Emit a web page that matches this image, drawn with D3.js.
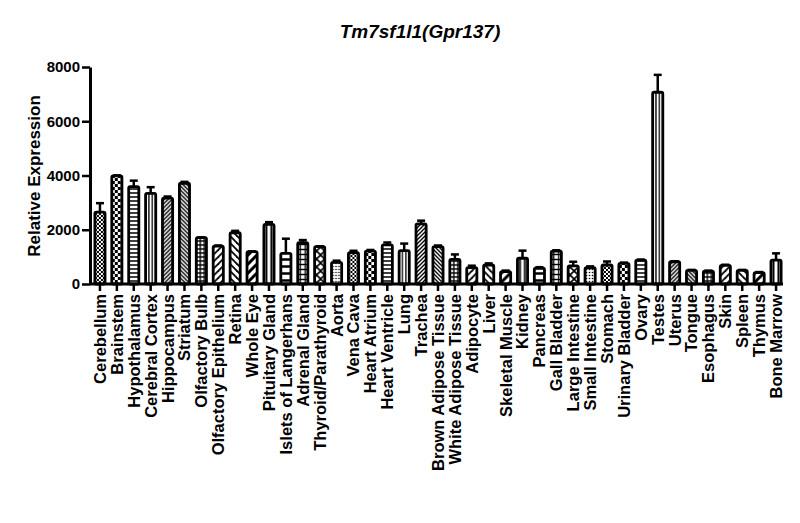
<!DOCTYPE html>
<html>
<head>
<meta charset="utf-8">
<script src="https://cdn.jsdelivr.net/npm/d3@7"></script>
<style>
  body { margin: 0; background: #fff; }
  svg { font-family: "Liberation Sans", Arial, sans-serif; }
  .axis path, .axis line { stroke: #000; }
  .axis text { fill: #000; font-weight: bold; }
</style>
</head>
<body>
<svg id="chart"></svg>
<script>
// tissue panel
const tissues = [
  "Cerebellum", "Brainstem", "Hypothalamus", "Cerebral Cortex", "Hippocampus",
  "Striatum", "Olfactory Bulb", "Olfactory Epithelium", "Retina", "Whole Eye",
  "Pituitary Gland", "Islets of Langerhans", "Adrenal Gland", "Thyroid/Parathyroid", "Aorta",
  "Vena Cava", "Heart Atrium", "Heart Ventricle", "Lung", "Trachea",
  "Brown Adipose Tissue", "White Adipose Tissue", "Adipocyte", "Liver", "Skeletal Muscle",
  "Kidney", "Pancreas", "Gall Bladder", "Large Intestine", "Small Intestine",
  "Stomach", "Urinary Bladder", "Ovary", "Testes", "Uterus",
  "Tongue", "Esophagus", "Skin", "Spleen", "Thymus", "Bone Marrow"
];
const expression = [
  2650, 3985, 3590, 3340, 3165,
  3715, 1710, 1400, 1890, 1190,
  2200, 1130, 1520, 1380, 800,
  1155, 1215, 1440, 1230, 2215,
  1380, 910, 605, 700, 455,
  950, 580, 1215, 670, 600,
  700, 760, 880, 7070, 820,
  500, 470, 690, 500, 420, 880
];
const sem = [
  330, 20, 220, 230, 60,
  50, 10, 20, 70, 10,
  80, 540, 100, 10, 60,
  70, 40, 90, 260, 120,
  40, 180, 70, 60, 40,
  280, 40, 30, 150, 50,
  130, 30, 20, 640, 20,
  20, 20, 20, 20, 20, 250
];
const yTicks = [0, 2000, 4000, 6000, 8000];
const chartTitle = "Tm7sf1l1(Gpr137)";
const yTitle = "Relative Expression";

// fill patterns cycle every 15 bars (prism style)
const patternCycle = [
  "checkSmall", "checkLarge", "horiz", "vert", "diagUp",
  "diagDown", "grid", "diagUpWide", "diagDownWide", "diagUpBold",
  "vertWide", "horizWide", "gridWide", "cross", "dots"
];

class BarChart {
  constructor(_config) {
    this.config = {
      parentElement: _config.parentElement,
      containerWidth: 800,
      containerHeight: 523,
      margin: { top: 67, right: 15, bottom: 239, left: 90 }
    };
    this.data = tissues.map((t, i) => ({ tissue: t, value: expression[i], err: sem[i], idx: i }));
    this.initVis();
  }

  initVis() {
    let vis = this;
    vis.width = vis.config.containerWidth - vis.config.margin.left - vis.config.margin.right;
    vis.height = vis.config.containerHeight - vis.config.margin.top - vis.config.margin.bottom;

    vis.svg = d3.select(vis.config.parentElement)
      .attr("width", vis.config.containerWidth)
      .attr("height", vis.config.containerHeight);

    vis.defs = vis.svg.append("defs");

    vis.chart = vis.svg.append("g")
      .attr("transform", `translate(${vis.config.margin.left},${vis.config.margin.top})`);

    vis.xScale = d3.scaleBand()
      .domain(tissues)
      .range([1.5, 694.5])
      .paddingInner(0.4)
      .paddingOuter(0.2);

    vis.yScale = d3.scaleLinear().domain([0, 8000]).range([vis.height, 0]);

    vis.xAxis = d3.axisBottom(vis.xScale).tickSizeInner(7).tickSizeOuter(0);
    vis.yAxis = d3.axisLeft(vis.yScale)
      .tickValues(yTicks)
      .tickFormat(d3.format("d"))
      .tickSizeInner(8).tickSizeOuter(0).tickPadding(2);

    // title
    vis.svg.append("text")
      .attr("x", 420)
      .attr("y", 38)
      .attr("text-anchor", "middle")
      .style("font-size", "19px")
      .style("font-weight", "bold")
      .style("font-style", "italic")
      .text(chartTitle);

    // y axis title
    vis.svg.append("text")
      .attr("transform", "rotate(-90)")
      .attr("x", -176)
      .attr("y", 40)
      .attr("text-anchor", "middle")
      .style("font-size", "17px")
      .style("font-weight", "bold")
      .text(yTitle);

    vis.renderVis();
  }

  // one pattern per bar so the stripes line up with the bar edge
  makePattern(id, kind, x0) {
    let vis = this;
    const sizes = {
      checkSmall: 4, checkLarge: 6, horiz: 4, vert: 3.4, diagUp: 4,
      diagDown: 4, grid: 4, diagUpWide: 7, diagDownWide: 7, diagUpBold: 9,
      vertWide: 5, horizWide: 7, gridWide: 5, cross: 8, dots: 3
    };
    const s = sizes[kind];
    const p = vis.defs.append("pattern")
      .attr("id", id)
      .attr("patternUnits", "userSpaceOnUse")
      .attr("x", x0)
      .attr("y", 0)
      .attr("width", s)
      .attr("height", s);
    p.append("rect").attr("width", s).attr("height", s).attr("fill", "#fff");
    const line = (x1, y1, x2, y2, w) => p.append("line")
      .attr("x1", x1).attr("y1", y1).attr("x2", x2).attr("y2", y2)
      .attr("stroke", "#000").attr("stroke-width", w);

    if (kind === "checkSmall" || kind === "checkLarge") {
      const h = s / 2;
      p.append("rect").attr("width", h).attr("height", h).attr("fill", "#000");
      p.append("rect").attr("x", h).attr("y", h).attr("width", h).attr("height", h).attr("fill", "#000");
    } else if (kind === "horiz" || kind === "horizWide") {
      line(0, s / 2, s, s / 2, kind === "horiz" ? 1.5 : 2.5);
    } else if (kind === "vert" || kind === "vertWide") {
      line(s / 2, 0, s / 2, s, kind === "vert" ? 1.3 : 2);
    } else if (kind === "grid" || kind === "gridWide") {
      line(s / 2, 0, s / 2, s, 1.4);
      line(0, s / 2, s, s / 2, 1.4);
    } else if (kind.startsWith("diagUp")) {
      const w = kind === "diagUp" ? 1.3 : (kind === "diagUpWide" ? 1.8 : 3);
      line(0, s, s, 0, w);
      line(-s / 2, s / 2, s / 2, -s / 2, w);
      line(s / 2, s * 1.5, s * 1.5, s / 2, w);
    } else if (kind.startsWith("diagDown")) {
      const w = kind === "diagDown" ? 1.3 : 1.8;
      line(0, 0, s, s, w);
      line(-s / 2, s / 2, s / 2, s * 1.5, w);
      line(s / 2, -s / 2, s * 1.5, s / 2, w);
    } else if (kind === "cross") {
      line(0, 0, s, s, 1.6);
      line(0, s, s, 0, 1.6);
    } else if (kind === "dots") {
      p.append("circle").attr("cx", s / 2).attr("cy", s / 2).attr("r", 0.8).attr("fill", "#000");
    }
  }

  renderVis() {
    let vis = this;
    const m = vis.config.margin;

    vis.data.forEach(d => {
      vis.makePattern(`pat-${d.idx}`, patternCycle[d.idx % patternCycle.length], m.left + vis.xScale(d.tissue));
    });

    // error bars (upper half only)
    const errG = vis.chart.selectAll(".err")
      .data(vis.data.filter(d => d.err > 0))
      .join("g")
      .attr("class", "err");

    errG.append("line")
      .attr("x1", d => vis.xScale(d.tissue) + vis.xScale.bandwidth() / 2)
      .attr("x2", d => vis.xScale(d.tissue) + vis.xScale.bandwidth() / 2)
      .attr("y1", d => vis.yScale(d.value))
      .attr("y2", d => vis.yScale(d.value + d.err))
      .attr("stroke", "#000")
      .attr("stroke-width", 2.5);

    errG.append("line")
      .attr("x1", d => vis.xScale(d.tissue) + vis.xScale.bandwidth() / 2 - 4)
      .attr("x2", d => vis.xScale(d.tissue) + vis.xScale.bandwidth() / 2 + 4)
      .attr("y1", d => vis.yScale(d.value + d.err))
      .attr("y2", d => vis.yScale(d.value + d.err))
      .attr("stroke", "#000")
      .attr("stroke-width", 2.5);

    vis.chart.selectAll(".bar")
      .data(vis.data)
      .join("rect")
      .attr("class", "bar")
      .attr("x", d => vis.xScale(d.tissue))
      .attr("y", d => vis.yScale(d.value))
      .attr("width", vis.xScale.bandwidth())
      .attr("height", d => vis.height - vis.yScale(d.value))
      .attr("rx", 1.5)
      .attr("fill", d => `url(#pat-${d.idx})`)
      .attr("stroke", "#000")
      .attr("stroke-width", 2.8);

    // axes
    const xg = vis.chart.append("g")
      .attr("class", "axis x-axis")
      .attr("transform", `translate(0,${vis.height})`)
      .call(vis.xAxis);
    xg.select(".domain").attr("stroke-width", 3).attr("d", `M0,0H${vis.width - 2}`);
    xg.selectAll(".tick line").attr("stroke-width", 2.5);
    xg.selectAll(".tick text")
      .attr("transform", "rotate(-90)")
      .attr("x", -10)
      .attr("y", 0)
      .attr("dy", "0.36em")
      .attr("text-anchor", "end")
      .style("font-size", "16.5px");

    const yg = vis.chart.append("g")
      .attr("class", "axis y-axis")
      .call(vis.yAxis);
    yg.select(".domain").attr("stroke-width", 3);
    yg.selectAll(".tick line").attr("stroke-width", 2.5);
    yg.selectAll(".tick text").style("font-size", "15px");
  }
}

const barChart = new BarChart({ parentElement: "#chart" });
</script>
</body>
</html>
